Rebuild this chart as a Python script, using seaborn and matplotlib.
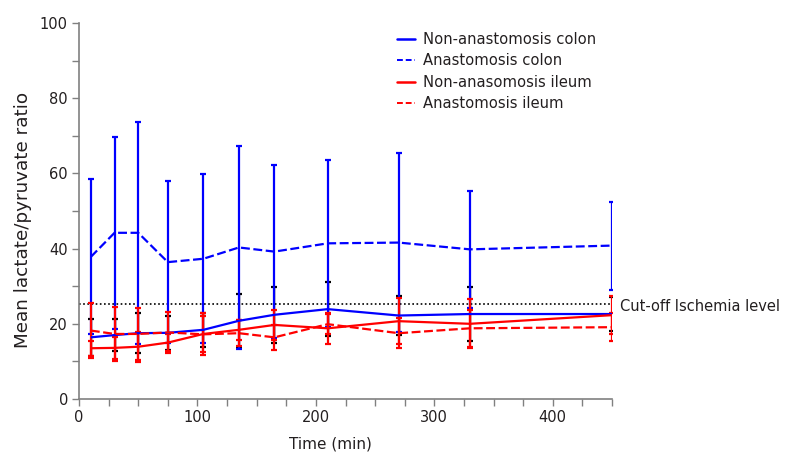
import numpy as np
import pandas as pd
import matplotlib
matplotlib.use("Agg")
import matplotlib.pyplot as plt
from matplotlib.ticker import MultipleLocator
from matplotlib.lines import Line2D
import seaborn as sns

# ---- data ----
time = [10, 30, 50, 75, 105, 135, 165, 210, 270, 330, 450]
nac_mean = [16.4, 17.0, 17.5, 17.6, 18.4, 20.8, 22.4, 23.9, 22.2, 22.6, 22.6]
nac_sd = [5.0, 4.3, 5.3, 4.6, 4.5, 7.0, 7.5, 7.1, 5.3, 7.3, 4.5]
ac_mean = [37.8, 44.2, 44.2, 36.4, 37.3, 40.3, 39.2, 41.4, 41.6, 39.8, 40.8]
ac_sd = [20.6, 25.6, 29.5, 21.6, 22.5, 27.1, 23.0, 22.2, 23.9, 15.6, 11.7]
nai_mean = [13.5, 13.6, 13.9, 15.0, 17.3, 18.4, 19.7, 18.8, 20.7, 20.0, 22.3]
nai_sd = [2.0, 3.0, 4.0, 2.2, 4.9, 2.6, 4.0, 4.2, 6.2, 6.5, 5.0]
ai_mean = [18.2, 17.3, 17.3, 17.7, 17.2, 17.5, 16.4, 19.9, 17.5, 18.8, 19.1]
ai_sd = [7.2, 7.2, 7.0, 5.5, 5.6, 3.5, 3.4, 2.7, 4.0, 5.0, 3.7]
cutoff = 25.3

series_names = ["Non-anastomosis colon", "Anastomosis colon",
                "Non-anasomosis ileum", "Anastomosis ileum"]

BLUE = "#0000FF"
RED = "#FF0000"
TXT = "#231F20"
GREY = "#808080"

sns.set_theme(style="white")
plt.rcParams["font.family"] = ["DejaVu Sans"]

rows = []
for name, means in zip(series_names, [nac_mean, ac_mean, nai_mean, ai_mean]):
    for t, m in zip(time, means):
        rows.append({"Time": t, "Value": m, "Series": name})
df = pd.DataFrame(rows)

W, H = 793, 465
fig = plt.figure(figsize=(W / 100, H / 100), dpi=100)
ax = fig.add_axes([79 / W, 1 - 399 / H, (612 - 79) / W, (399 - 23) / H])

# cut-off line
ax.axhline(cutoff, color="black", lw=1.2, ls=(0, (1, 1.5)), zorder=1)

# error bars
eb_kw = dict(fmt="none", capsize=2.5, capthick=1.6)
ax.errorbar(time, nac_mean, yerr=nac_sd, ecolor="black", elinewidth=1.0, zorder=2, **eb_kw)
ax.errorbar(time, ac_mean, yerr=ac_sd, ecolor=BLUE, elinewidth=1.6, zorder=3, **eb_kw)
ax.errorbar(time, nai_mean, yerr=nai_sd, ecolor=RED, elinewidth=1.6, zorder=4, **eb_kw)
ax.errorbar(time, ai_mean, yerr=ai_sd, ecolor=RED, elinewidth=1.6, zorder=4, **eb_kw)

palette = {series_names[0]: BLUE, series_names[1]: BLUE,
           series_names[2]: RED, series_names[3]: RED}
dashes = {series_names[0]: (1, 0), series_names[1]: (4, 1.6),
          series_names[2]: (1, 0), series_names[3]: (4, 1.6)}
sns.lineplot(data=df, x="Time", y="Value", hue="Series", style="Series",
             palette=palette, dashes=dashes, lw=1.6, ax=ax, legend=False,
             zorder=5, sort=False)

ax.set_xlim(0, 450)
ax.set_ylim(0, 100)
ax.xaxis.set_major_locator(MultipleLocator(100))
ax.xaxis.set_minor_locator(MultipleLocator(25))
ax.yaxis.set_major_locator(MultipleLocator(20))
ax.yaxis.set_minor_locator(MultipleLocator(10))
ax.tick_params(which="both", direction="out", length=5, width=1, color=GREY,
               labelsize=10.5, labelcolor=TXT, bottom=True, left=True, pad=3)
for s in ["top", "right"]:
    ax.spines[s].set_visible(False)
for s in ["left", "bottom"]:
    ax.spines[s].set_color(GREY)
    ax.spines[s].set_linewidth(1.2)

ax.set_xlabel("Time (min)", fontsize=11, color=TXT)
ax.xaxis.set_label_coords((330 - 79) / 533, -0.10)
ax.set_ylabel("Mean lactate/pyruvate ratio", fontsize=13.2, color=TXT)
ax.yaxis.set_label_coords(-0.088, (399 - 220) / 376)

ax.text(457, cutoff - 0.7, "Cut-off Ischemia level", fontsize=10.5, color=TXT,
        va="center", ha="left", clip_on=False)

handles = [Line2D([], [], color=BLUE, lw=1.8),
           Line2D([], [], color=BLUE, lw=1.4, ls=(0, (3, 1.5))),
           Line2D([], [], color=RED, lw=1.8),
           Line2D([], [], color=RED, lw=1.4, ls=(0, (3, 1.5)))]
leg = ax.legend(handles, series_names, loc="upper left",
                bbox_to_anchor=(397 / W, 1 - 32 / H),
                bbox_transform=fig.transFigure, frameon=False,
                fontsize=10.6, handlelength=1.25, handletextpad=0.5,
                labelspacing=0.44, borderaxespad=0, borderpad=0)
for t in leg.get_texts():
    t.set_color(TXT)

fig.savefig("out.png", dpi=100)
